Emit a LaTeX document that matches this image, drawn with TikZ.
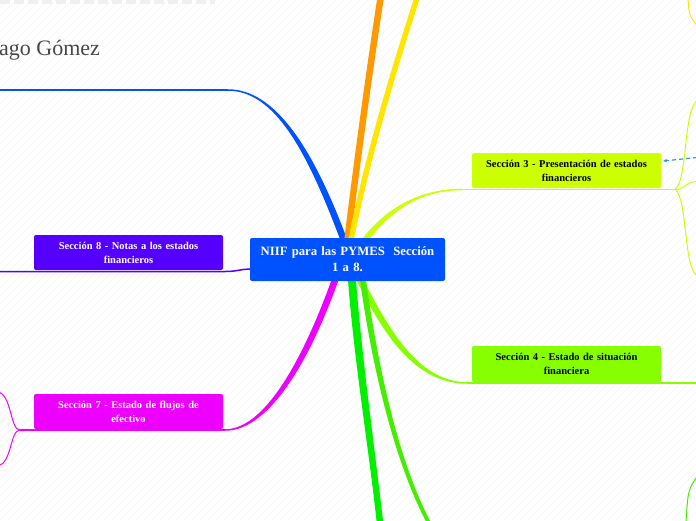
\documentclass[tikz,border=0pt]{standalone}
\usepackage{fontspec}
\setmainfont{Liberation Serif}
\usetikzlibrary{calc,arrows.meta,backgrounds}
\definecolor{cb}{HTML}{0052FF}
\definecolor{cpur}{HTML}{5500FF}
\definecolor{cmag}{HTML}{EE00FF}
\definecolor{cs3}{HTML}{CCFF00}
\definecolor{cs4}{HTML}{88FF00}
\definecolor{cg}{HTML}{00F000}
\definecolor{cg2}{HTML}{44EE00}
\definecolor{cor}{HTML}{FF9900}
\definecolor{cye}{HTML}{FFE500}
\definecolor{cdash}{HTML}{3D8FE0}
\tikzset{
  secbox/.style={rectangle, rounded corners=2pt, minimum width=189pt, minimum height=35pt,
    text width=185pt, align=center, inner sep=0pt, font=\fontsize{10.5}{14}\selectfont\bfseries},
  thin/.style={line width=1.5pt},
  fork/.style={line width=1pt}
}
\begin{document}
\begin{tikzpicture}[x=1pt,y=-1pt]
\useasboundingbox (0,0) rectangle (696,520);
% nodes
\node[anchor=base west, inner sep=0pt, text=black!72, font=\fontsize{22}{26}\selectfont] (title) at (-1,55) {ago Gómez};
\node[secbox, fill=cb, text=white, minimum width=195pt, minimum height=43pt, text width=192pt,
  font=\fontsize{12.7}{16}\selectfont\bfseries] (c) at (347.5,259.5) {NIIF para las PYMES\ \ Sección\\1 a 8.};
\node[secbox, fill=cs3, text=black] (s3) at (566.5,170.5) {Sección 3 - Presentación de estados\\financieros};
\node[secbox, fill=cs4, text=black, minimum height=36pt] (s4) at (566.5,364) {Sección 4 - Estado de situación\\financiera};
\node[secbox, fill=cpur, text=white] (s8) at (128.5,252.5) {Sección 8 - Notas a los estados\\financieros};
\node[secbox, fill=cmag, text=white] (s7) at (128.5,411.5) {Sección 7 - Estado de flujos de\\efectivo};
% free ends
\coordinate (bE) at (228,90);
\coordinate (bL) at (0,90);
\coordinate (oE) at (381,-5);
\coordinate (yE) at (418,-5);
\coordinate (s3L) at (462,189.5);
\coordinate (s3F) at (675,189.5);
\coordinate (s4L) at (468,383);
\coordinate (s4R) at (697,383);
\coordinate (gE) at (380,525);
\coordinate (g2E) at (430,525);
\coordinate (s7R) at (225,430);
\coordinate (s7F) at (20,430);
\coordinate (s8L) at (0,271.5);
\coordinate (s8R) at (225,271.5);
\coordinate (arS) at (697,157.5);
\begin{scope}[on background layer]
\fill[white] (0,0) rectangle (696,520);
\begin{scope}
\clip (0,0) rectangle (696,520);
\foreach \i in {0,8,...,1216} \draw[black!4, line width=0.6pt] (\i,0) -- (\i-520,520);
\end{scope}
\draw[black!6, line width=3.5pt, dash pattern=on 10pt off 4pt] (0,1.75) -- (215,1.75);
% blue branch (tapered)
\fill[cb] ($(c.north)+(-1,0)$) .. controls (313,148) and (275,89.25) .. ($(bE)+(0,-0.75)$)
  -- ($(bE)+(0,0.75)$) .. controls (275,90.75) and (307,152) .. ($(c.north)+(-8,0)$) -- cycle;
\draw[cb, thin] (bL) -- (bE);
% orange and yellow
\draw[cor, line width=6.5pt] ($(c.north)+(0,2)$) .. controls (356,170) and (368,80) .. (oE);
\draw[cye, line width=5.5pt] ($(c.north)+(3.5,2)$) .. controls (365,170) and (387,90) .. (yE);
% section 3
\fill[cs3] (361.5,240) .. controls (392,200) and (430,188.75) .. ($(s3L)+(0,-0.75)$)
  -- ($(s3L)+(0,0.75)$) .. controls (430,190.25) and (398,202) .. (368.5,240) -- cycle;
\draw[cs3, thin] (s3L) -- (s3F);
\draw[cs3, fork] (s3F) .. controls (688,180) and (683,108) .. (698,100);
\draw[cs3, fork] (s3F) .. controls (685,189.5) and (685,182) .. (698,181);
\draw[cs3, fork] (s3F) .. controls (688,198) and (683,270) .. (698,276);
\draw[cdash, line width=1.2pt, dash pattern=on 4pt off 3pt, -{Stealth[length=4pt,width=3.5pt]}]
  (arS) -- ($(s3.east)+(2,-9.5)$);
% section 4
\fill[cs4] (363.5,280) .. controls (393,338) and (422,382.25) .. ($(s4L)+(0,-0.75)$)
  -- ($(s4L)+(0,0.75)$) .. controls (418,383.75) and (387,342) .. (356.5,280) -- cycle;
\draw[cs4, thin] (s4L) -- (s4R);
% greens down
\fill[cg] (348,280) .. controls (354,360) and (369,450) .. ($(gE)+(-3,0)$)
  -- ($(gE)+(3.5,0)$) .. controls (375,450) and (362,360) .. (356,280) -- cycle;
\fill[cg2] (360,280) .. controls (371,360) and (393,460) .. ($(g2E)+(-2.2,0)$)
  -- ($(g2E)+(2.2,0)$) .. controls (397,460) and (377,360) .. (366,280) -- cycle;
% section 7
\fill[cmag] (338.5,280) .. controls (313,352) and (272,430.75) .. ($(s7R)+(0,0.75)$)
  -- ($(s7R)+(0,-0.75)$) .. controls (268,429.25) and (307,348) .. (331.5,280) -- cycle;
\draw[cmag, thin] (s7F) -- (s7R);
\draw[cmag, fork] (s7F) .. controls (10,430) and (12,395) .. (-2,392);
\draw[cmag, fork] (s7F) .. controls (10,430) and (12,463) .. (-2,466);
% section 8
\draw[cpur, thin] (s8L) -- (s8R) .. controls (238,271.5) and (240,269) .. ($(c.south west)+(0,-12)$);
% other thin lines at the edges
\draw[cye, fork] (688,-2) .. controls (689,15) .. (698,27);
\draw[cg2, fork] (686,522) .. controls (688,490) .. (698,475);
\end{scope}
\end{tikzpicture}
\end{document}
